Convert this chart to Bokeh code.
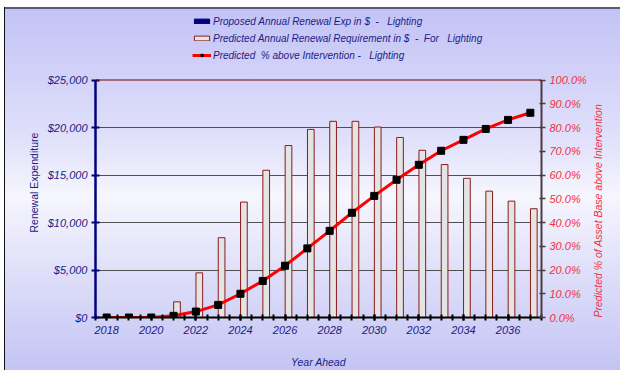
import math
from bokeh.plotting import figure
from bokeh.models import (Range1d, LinearAxis, FixedTicker, NumeralTickFormatter,
                          Legend, LegendItem, ColumnDataSource, Span, Title)
from bokeh.transform import dodge
from bokeh.embed import file_html
from bokeh.resources import INLINE

# ---- data ----
years = list(range(2018, 2038))
proposed_exp = [0] * 20
predicted_req = [0, 0, 0, 1650, 4700, 8400, 12150, 15500, 18100, 19800,
                 20650, 20650, 20050, 18950, 17600, 16100, 14650, 13300, 12250, 11450]
pct_above = [0.0, 0.0, 0.0, 0.007, 0.025, 0.053, 0.100, 0.154, 0.218, 0.291,
             0.365, 0.441, 0.512, 0.580, 0.643, 0.702, 0.748, 0.794, 0.832, 0.862]
year_labels = [2018, 2020, 2022, 2024, 2026, 2028, 2030, 2032, 2034, 2036]
left_ticks = [0, 5000, 10000, 15000, 20000, 25000]
right_ticks = [i / 10 for i in range(11)]

legend_labels = ["Proposed Annual Renewal Exp in $  -   Lighting",
                 "Predicted Annual Renewal Requirement in $  -  For   Lighting",
                 "Predicted  % above Intervention -   Lighting"]

NAVY = "#1c1c84"
RED_TXT = "#f03040"
FONT = "Liberation Sans"

# layout: frame spans the legend area too; the value axes are bounded
FRAME_H = 310.0        # canvas px of the frame
PLOT_H = 237.5         # px used by the $0..$25,000 part
LEFT_MAX = left_ticks[-1]
RIGHT_MAX = right_ticks[-1]
stretch = FRAME_H / PLOT_H

src = ColumnDataSource(dict(year=years, proposed=proposed_exp, req=predicted_req, pct=pct_above))

p = figure(width=616, height=363, output_backend="svg", toolbar_location=None, title=None,
           x_range=Range1d(2017.5, 2037.5), y_range=Range1d(0, LEFT_MAX * stretch),
           min_border_left=91, min_border_right=79, min_border_top=0, min_border_bottom=53)
p.extra_y_ranges = {"pct": Range1d(0, RIGHT_MAX * stretch)}

p.background_fill_color = None
p.border_fill_color = None
p.outline_line_color = None
p.styles = {"background": "linear-gradient(to bottom, #c2c2f6 0%, #e2e2fb 38%, #f6f6fe 52%, #e0e0fa 72%, #c4c4f4 100%)",
            "box-shadow": "inset 1px 0 0 #111111, inset 0 2px 0 #5c5c7a",
            "margin-left": "4px", "margin-top": "7px"}

# grid
p.xgrid.visible = False
p.ygrid.ticker = FixedTicker(ticks=left_ticks[1:-1])
p.ygrid.grid_line_color = "#505050"
p.ygrid.grid_line_width = 1
p.add_layout(Span(location=LEFT_MAX, dimension="width", line_color="#800000", line_width=1.2))

r_prop = p.vbar(x=dodge("year", -0.155, range=p.x_range), top="proposed", width=0.3,
                source=src, fill_color="#000080", line_color="#000080")
r_req = p.vbar(x=dodge("year", 0.155, range=p.x_range), top="req", width=0.3,
               source=src, fill_color="#e4e4e4", line_color="#8b1a1a", line_width=1)
r_line = p.line(x="year", y="pct", source=src, y_range_name="pct",
                line_color="#ff0000", line_width=3)
r_pts = p.scatter(x="year", y="pct", source=src, y_range_name="pct", marker="square",
                  size=7, fill_color="#000000", line_color="#000000")

# left axis
ya = p.yaxis[0]
ya.bounds = (0, LEFT_MAX)
ya.ticker = FixedTicker(ticks=left_ticks)
ya.formatter = NumeralTickFormatter(format="$0,0")
ya.axis_line_color = "#000080"
ya.axis_line_width = 2.5
ya.major_tick_line_color = "#000080"
ya.major_tick_line_width = 2
ya.major_tick_in = 4
ya.major_tick_out = 4
ya.minor_tick_line_color = None
ya.major_label_text_font = FONT
ya.major_label_text_font_style = "italic"
ya.major_label_text_font_size = "11px"
ya.major_label_text_color = NAVY
ya.major_label_standoff = 4

left_title = Title(text="Renewal Expenditure", align="left", offset=85,
                   text_font=FONT, text_font_size="10.5px", text_font_style="normal",
                   text_color=NAVY)
p.add_layout(left_title, "left")

# right axis
ra = LinearAxis(y_range_name="pct", bounds=(0, RIGHT_MAX))
ra.ticker = FixedTicker(ticks=right_ticks)
ra.formatter = NumeralTickFormatter(format="0.0%")
ra.axis_line_color = "#4a3a42"
ra.axis_line_width = 2
ra.major_tick_line_color = "#4a3a42"
ra.major_tick_line_width = 1.5
ra.major_tick_in = 2
ra.major_tick_out = 4
ra.minor_tick_line_color = None
ra.major_label_text_font = FONT
ra.major_label_text_font_style = "italic"
ra.major_label_text_font_size = "11px"
ra.major_label_text_color = RED_TXT
ra.major_label_standoff = 4
ra.axis_label = "Predicted % of Asset Base above Intervention"
ra.axis_label_text_font = FONT
ra.axis_label_text_font_style = "italic"
ra.axis_label_text_font_size = "10.5px"
ra.axis_label_text_color = RED_TXT
ra.axis_label_standoff = 8
props = LinearAxis.properties()
if "axis_label_orientation" in props:
    ra.axis_label_orientation = math.pi / 2
if "axis_label_align" in props:
    ra.axis_label_align = "start"
p.add_layout(ra, "right")

# bottom axis
xa = p.xaxis[0]
xa.ticker = FixedTicker(ticks=year_labels,
                        minor_ticks=[2017.5 + 0.5 * i for i in range(41)])
xa.axis_line_color = "#000000"
xa.axis_line_width = 2
xa.major_tick_line_color = "#000000"
xa.major_tick_line_width = 2
xa.major_tick_in = 3
xa.major_tick_out = 3
xa.minor_tick_line_color = "#000000"
xa.minor_tick_line_width = 2
xa.minor_tick_in = 3
xa.minor_tick_out = 3
xa.major_label_text_font = FONT
xa.major_label_text_font_style = "italic"
xa.major_label_text_font_size = "11px"
xa.major_label_text_color = NAVY
xa.major_label_standoff = 5
xa.axis_label = "Year Ahead"
xa.axis_label_text_font = FONT
xa.axis_label_text_font_style = "italic"
xa.axis_label_text_font_size = "10.5px"
xa.axis_label_text_color = NAVY
xa.axis_label_standoff = 19

legend = Legend(items=[LegendItem(label=legend_labels[0], renderers=[r_prop]),
                       LegendItem(label=legend_labels[1], renderers=[r_req]),
                       LegendItem(label=legend_labels[2], renderers=[r_line, r_pts])],
                location=(97, 256), orientation="vertical")
legend.background_fill_color = None
legend.border_line_color = None
legend.padding = 0
legend.margin = 0
legend.spacing = 5
legend.glyph_width = 19
legend.glyph_height = 6
legend.label_height = 12
legend.label_standoff = 2
legend.label_text_font = FONT
legend.label_text_font_style = "italic"
legend.label_text_font_size = "10px"
legend.label_text_color = NAVY
p.add_layout(legend, "center")

open("out.html", "w").write(file_html(p, INLINE))
